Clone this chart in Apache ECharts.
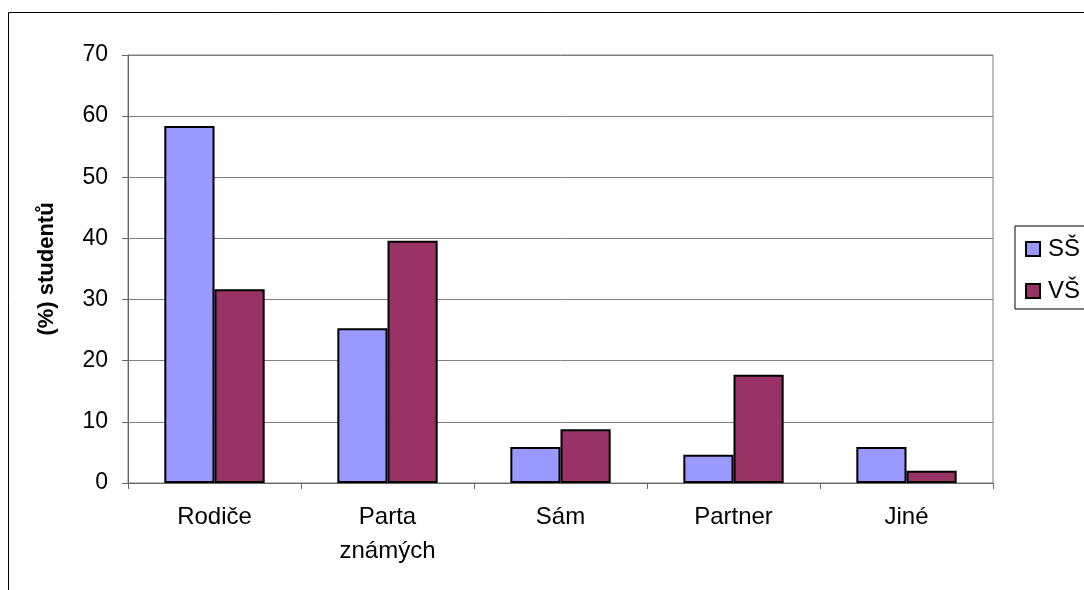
<!DOCTYPE html>
<html><head><meta charset="utf-8">
<script src="https://cdn.jsdelivr.net/npm/echarts@6/dist/echarts.min.js"></script>
<style>html,body{margin:0;padding:0;background:#fff}#c{width:1084px;height:590px}</style>
</head><body><div id="c"></div>
<script>
const categories = ['Rodiče', 'Parta\nznámých', 'Sám', 'Partner', 'Jiné'];
const seriesSS = [58.4, 25.3, 5.9, 4.6, 5.9];
const seriesVS = [31.7, 39.6, 8.8, 17.7, 2.0];
const yTicks = { min: 0, max: 70, interval: 10 };

const chart = echarts.init(document.getElementById('c'));
const font = 'Liberation Sans, Arial, sans-serif';
chart.setOption({
  animation: false,
  graphic: [{
    type: 'rect', shape: { x: 8.5, y: 12.5, width: 1100, height: 600 },
    style: { fill: 'none', stroke: '#000', lineWidth: 1 }, silent: true, z: -1
  }],
  grid: { left: 128, right: 91, top: 55, bottom: 107, show: true, borderColor: '#808080', borderWidth: 1 },
  legend: {
    orient: 'vertical', left: 1015, top: 226,
    borderColor: '#000', borderWidth: 1, padding: [11, 30, 6, 10],
    itemWidth: 14, itemHeight: 14, itemGap: 18,
    icon: 'rect',
    textStyle: { fontFamily: font, fontSize: 24, color: '#000', padding: [0, 0, 0, 3] },
    data: ['SŠ', 'VŠ']
  },
  xAxis: {
    type: 'category', data: categories,
    axisLine: { lineStyle: { color: '#666' } },
    axisTick: { show: true, length: 6, lineStyle: { color: '#666' } },
    axisLabel: { fontFamily: font, fontSize: 24, color: '#000', margin: 17, lineHeight: 34 }
  },
  yAxis: {
    type: 'value', min: yTicks.min, max: yTicks.max, interval: yTicks.interval,
    name: '(%) studentů', nameLocation: 'middle', nameGap: 70, nameRotate: 90,
    nameTextStyle: { fontFamily: font, fontSize: 22, fontWeight: 'bold', color: '#000' },
    axisLine: { show: true, lineStyle: { color: '#666' } },
    axisTick: { show: true, length: 6, lineStyle: { color: '#666' } },
    splitLine: { lineStyle: { color: '#808080' } },
    axisLabel: { fontFamily: font, fontSize: 23, color: '#000', margin: 20 }
  },
  series: [
    { name: 'SŠ', type: 'bar', data: seriesSS, barGap: '0%', barCategoryGap: '42%',
      itemStyle: { color: '#9999FF', borderColor: '#000', borderWidth: 2 } },
    { name: 'VŠ', type: 'bar', data: seriesVS,
      itemStyle: { color: '#993366', borderColor: '#000', borderWidth: 2 } }
  ]
});
</script></body></html>
